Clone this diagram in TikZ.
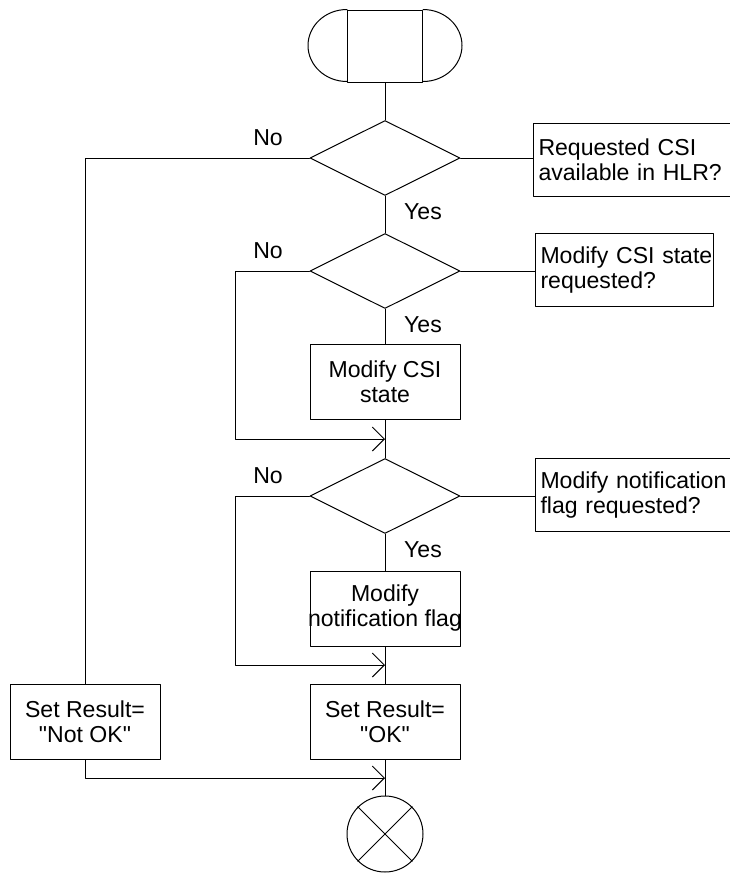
\documentclass[tikz,border=0pt]{standalone}
\usepackage{fontspec}
\setmainfont{Liberation Sans}
\usetikzlibrary{shapes.geometric,arrows.meta,positioning}

\tikzset{
  txt/.style={font=\fontsize{17.3}{18.75}\selectfont},
  proc/.style={txt, draw, rectangle, minimum width=112.5pt, minimum height=56.25pt, inner sep=0pt, align=center},
  decis/.style={draw, diamond, minimum width=112.5pt, minimum height=56.25pt, inner sep=0pt},
  note/.style={txt, draw, rectangle, anchor=north west, align=left, inner xsep=3.75pt, inner ysep=0pt, minimum height=55pt, text width=#1},
  lbl/.style={txt, inner sep=0pt},
  flow/.style={-{Straight Barb[length=9pt,width=18pt]}}
}
\newcommand{\qq}[1]{\textquotedbl#1\textquotedbl}

\begin{document}
\begin{tikzpicture}[x=0.75pt,y=-0.75pt, line width=0.75pt, line cap=round, line join=round]

\useasboundingbox (0,0) rectangle (730,875);
\clip (0,0) rectangle (730,875);

% Start
\node[draw, rectangle, minimum width=56.25pt, minimum height=54pt, inner sep=0pt] (start) at (385,46) {};
\draw (start.north west) arc[start angle=90, end angle=270, x radius=29.25pt, y radius=27pt];
\draw (start.north east) arc[start angle=90, end angle=-90, x radius=29.25pt, y radius=27pt];

% Abfragen
\node[decis] (q1) at (385,158) {};
\node[decis] (q2) at (385,271) {};
\node[decis] (q3) at (385,496) {};

% Kommentare (rechts vom Bildrand abgeschnitten)
\node[note=200pt]   (n1) at (533,123) {Requested CSI\\available in HLR?};
\node[note=126pt]   (n2) at (535,233) {\mbox{Modify CSI state}\\requested?};
\node[note=160pt]   (n3) at (535,458) {\mbox{Modify notification}\\flag requested?};

% Aktionen
\node[proc] (csi)   at (385,382)   {Modify CSI\\state};
\node[proc] (flag)  at (385,608.5) {Modify\\\makebox[0pt]{notification flag}};
\node[proc] (ok)    at (385,721.5) {Set Result=\\\qq{OK}};
\node[proc] (notok) at (85,721.5)  {Set Result=\\\qq{Not OK}};

% Ende
\node[draw, circle, minimum size=57pt, inner sep=0pt] (stop) at (385,834) {};
\draw (stop.45) -- (stop.225);
\draw (stop.135) -- (stop.315);

% Zusammenfuehrungen
\coordinate (m1)  at (385,439);
\coordinate (m1w) at (235,439);
\coordinate (m2)  at (385,665);
\coordinate (m2w) at (235,665);
\coordinate (m3)  at (385,778);

% Verbindungen
\draw (start.south) -- (q1.north);
\draw (q1.east) -- (q1.east -| n1.west);
\draw (q1.west) -| (notok.north);
\draw (q1.south) -- (q2.north);
\draw (q2.east) -- (q2.east -| n2.west);
\draw (q2.south) -- (csi.north);
\draw[flow] (q2.west) -| (m1w) -- (m1);
\draw (csi.south) -- (q3.north);
\draw (q3.east) -- (q3.east -| n3.west);
\draw (q3.south) -- (flag.north);
\draw[flow] (q3.west) -| (m2w) -- (m2);
\draw (flag.south) -- (ok.north);
\draw (ok.south) -- (stop.north);
\draw[flow] (notok.south) |- (m3);

% Ja/Nein
\foreach \q in {q1,q2,q3} {
  \node[lbl] (no\q)  at ([shift={(-117,-20)}]\q.center) {No};
  \node[lbl] (yes\q) at ([shift={(38,16)}]\q.south) {Yes};
}

\end{tikzpicture}
\end{document}
